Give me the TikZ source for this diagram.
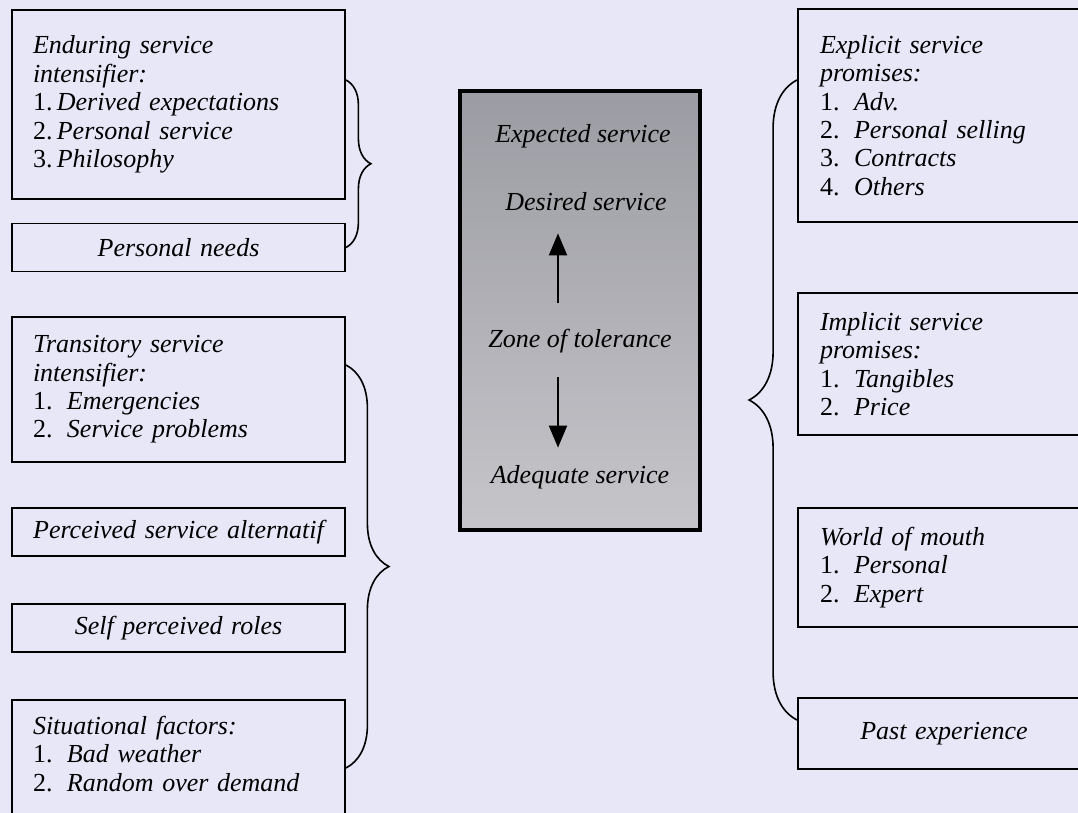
\documentclass[tikz,border=0pt]{standalone}
\usepackage{fontspec}
\setmainfont{Liberation Serif}
\usepackage{tikz}
\usetikzlibrary{arrows.meta}
\usetikzlibrary{decorations.pathreplacing}
\definecolor{wmark}{RGB}{231,231,248}
\definecolor{fog}{RGB}{150,150,158}
\tikzset{box/.style = {draw, line width = 0.9pt, rectangle, inner ysep = 0,
                       font = \itshape\fontsize{13}{14.2}\selectfont}}
\tikzset{lbox/.style = {box, inner xsep = 10.5pt, text width = 145.5pt, align = left}}
\tikzset{lone/.style = {box, inner xsep = 10.5pt, text width = 145.5pt, align = center,
                        minimum height = 24pt}}
\tikzset{rbox/.style = {box, inner xsep = 11pt, text width = 124pt, align = left}}
\tikzset{rone/.style = {box, inner xsep = 11pt, text width = 124pt, align = center}}
\tikzset{curly/.style = {decorate, decoration = {brace, amplitude = #1}, line width = 0.8pt}}
\tikzset{ctext/.style = {inner sep = 0, text height = 9pt, text depth = 3pt,
                         font = \itshape\fontsize{13}{14.2}\selectfont}}
\tikzset{tol/.style = {line width = 1pt, -{Triangle[width = 9pt, length = 11pt]}}}
\newcommand{\nr}[1]{\makebox[17pt][l]{\upshape #1}}
\newcommand{\nrt}[1]{{\upshape #1}\,}

\begin{document}
\begin{tikzpicture}[x = 0.5pt, y = -0.5pt]
    \useasboundingbox (0, 0) rectangle (1078, 813);
    \clip (0, 0) rectangle (1078, 813);
    \fill [wmark] (0, 0) rectangle (1078, 813);

    % left side
    \node [lbox, minimum height = 94.5pt] (enduring) at (178.5, 104.5)
        {Enduring service\\ intensifier:\\ \nrt{1.}Derived expectations\\
         \nrt{2.}Personal service\\ \nrt{3.}Philosophy};
    \node [lone] (needs) at (178.5, 247.5) {Personal needs};

    \node [lbox, minimum height = 72.5pt] (transitory) at (178.5, 389.5)
        {Transitory service\\ intensifier:\\ \nr{1.}Emergencies\\ \nr{2.}Service problems};
    \node [lone] (alternatif) at (178.5, 532) {Perceived service alternatif};
    \node [lone] (roles) at (178.5, 628) {Self perceived roles};
    \node [lbox, anchor = north, inner ysep = 8pt] (situational) at (178.5, 699)
        {Situational factors:\\ \nr{1.}Bad weather\\ \nr{2.}Random over demand\\ \mbox{}};

    \coordinate (b1top) at (enduring.east |- 0, 80);
    \draw [curly = 12.5pt] (b1top) -- (needs.east);
    \coordinate (b2top) at (transitory.east |- 0, 365);
    \coordinate (b2bot) at (situational.east |- 0, 768);
    \draw [curly = 21.5pt] (b2top) -- (b2bot);

    % zone of tolerance
    \node [draw, line width = 2.2pt, minimum width = 120pt, minimum height = 219.5pt,
           top color = fog!95, middle color = fog!80, bottom color = fog!55] (zonebox) at (580, 310.5) {};
    \node [ctext] (expected) at (583, 137) {Expected service};
    \node [ctext] (desired) at (586, 205) {Desired service};
    \node [ctext] (zone) at (580, 342) {Zone of tolerance};
    \node [ctext] (adequate) at (580, 477) {Adequate service};
    \coordinate (axis) at (558, 0);
    \draw [tol, shorten < = 13.5pt, shorten > = 8pt] (zone.north -| axis) -- (desired.south -| axis);
    \draw [tol, shorten < = 11.5pt, shorten > = 8.5pt] (zone.south -| axis) -- (adequate.north -| axis);

    % right side
    \node [rbox, minimum height = 106.5pt] (explicit) at (944, 115.5)
        {Explicit service\\ promises:\\ \nr{1.}Adv.\\ \nr{2.}Personal selling\\
         \nr{3.}Contracts\\ \nr{4.}Others};
    \node [rbox, minimum height = 71pt] (implicit) at (944, 364)
        {Implicit service\\ promises:\\ \nr{1.}Tangibles\\ \nr{2.}Price};
    \node [rbox, minimum height = 59.5pt] (mouth) at (944, 567.5)
        {World of mouth\\ \nr{1.}Personal\\ \nr{2.}Expert};
    \node [rone, minimum height = 35.5pt] (past) at (944, 733.5) {Past experience};

    \coordinate (b3top) at (explicit.west |- 0, 80);
    \coordinate (b3bot) at (past.west |- 0, 720);
    \draw [curly = 24pt] (b3bot) -- (b3top);
\end{tikzpicture}
\end{document}
